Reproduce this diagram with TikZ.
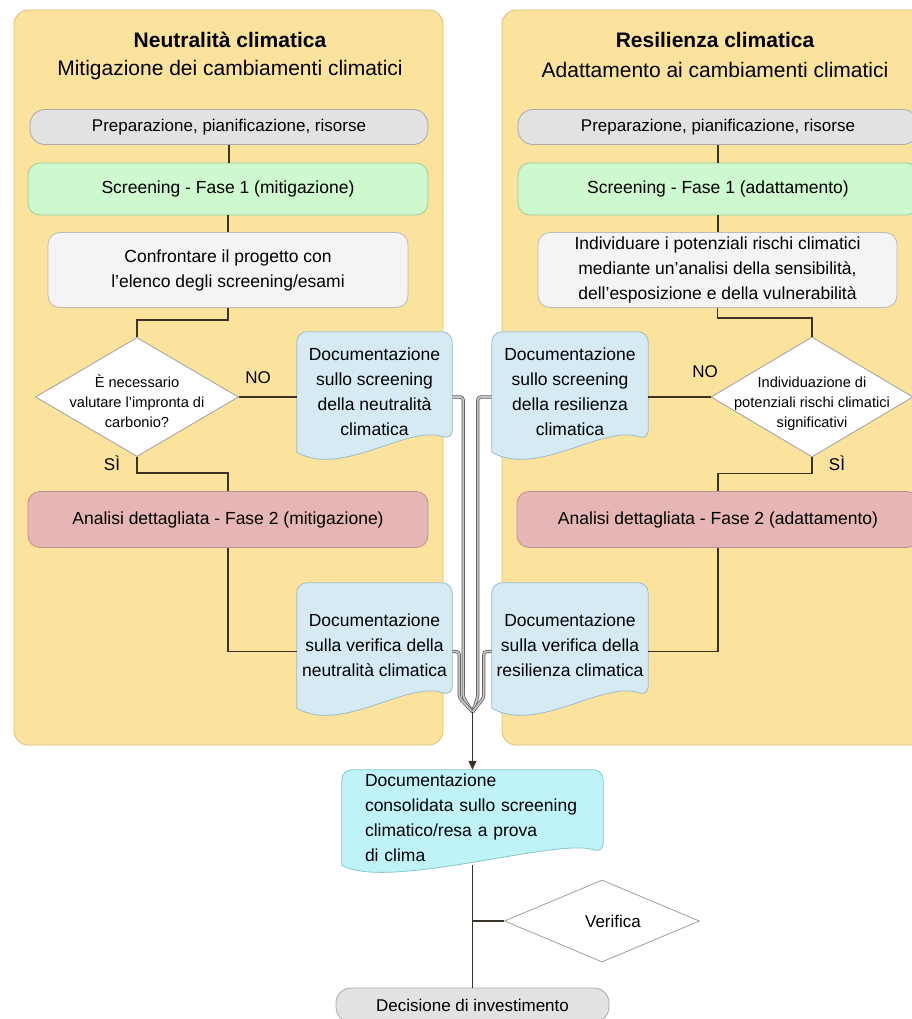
\documentclass[tikz,border=0pt]{standalone}
\usepackage{fontspec}
\setmainfont{Liberation Sans}
\usetikzlibrary{shapes.geometric,backgrounds,arrows.meta}

\definecolor{panelfill}{HTML}{FCE39D}
\definecolor{paneldraw}{HTML}{DDBF7A}
\definecolor{prepfill}{HTML}{E2E2E2}
\definecolor{prepdraw}{HTML}{A9A9A9}
\definecolor{scrfill}{HTML}{CEF8CE}
\definecolor{scrdraw}{HTML}{9CCB9C}
\definecolor{chkfill}{HTML}{F4F4F4}
\definecolor{chkdraw}{HTML}{BBBBBB}
\definecolor{anafill}{HTML}{E6B5B5}
\definecolor{anadraw}{HTML}{BF8E8E}
\definecolor{docfill}{HTML}{D6EAF3}
\definecolor{docdraw}{HTML}{9BBCCB}
\definecolor{consfill}{HTML}{C0F3F7}
\definecolor{consdraw}{HTML}{86C6CE}
\definecolor{linecol}{HTML}{3A3325}

\tikzset{
	panel/.style={fill=panelfill, draw=paneldraw, line width=0.8, rounded corners=14},
	title/.style={font=\bfseries\fontsize{21}{25}\selectfont},
	subtitle/.style={font=\fontsize{21}{25}\selectfont},
	box/.style={rectangle, rounded corners=12, align=center, inner sep=0, line width=0.8, font=\fontsize{17.5}{25}\selectfont},
	prep/.style={box, rounded corners=15, fill=prepfill, draw=prepdraw, minimum height=35, font=\fontsize{17}{25}\selectfont},
	screen/.style={box, fill=scrfill, draw=scrdraw, minimum height=52},
	check/.style={box, fill=chkfill, draw=chkdraw, minimum height=75},
	analysis/.style={box, fill=anafill, draw=anadraw, minimum height=56},
	doc/.style={rectangle, align=center, inner sep=0, minimum width=155, font=\fontsize{17.5}{25}\selectfont},
	cons/.style={rectangle, align=left, text width=215, inner xsep=23, inner ysep=0, minimum height=95, font=\fontsize{17.5}{25}\selectfont},
	decision/.style={diamond, draw=gray!75, fill=white, line width=0.8, minimum width=203, minimum height=119, inner sep=0},
	dectext/.style={align=center, inner sep=0, font=\fontsize{14.6}{20}\selectfont},
	answer/.style={inner sep=0, font=\fontsize{17}{20}\selectfont},
	flow/.style={draw=linecol, line width=1.2},
	pipe/.style={draw=black!65, line width=0.7, double=gray!45, double distance=1.8, rounded corners=3},
	arrow/.style={flow, -{Triangle[length=9,width=8]}}
}

% document shape behind a named node
\newcommand{\docshape}[3]{%
	\begin{scope}[on background layer]
		\filldraw[fill=#2, draw=#3, line width=0.8] (#1.south west) [rounded corners=10] -- (#1.north west) -- (#1.north east) -- ([yshift=12]#1.south east) [sharp corners] .. controls ([xshift=-45,yshift=28]#1.south east) and ([xshift=45,yshift=-26]#1.south west) .. (#1.south west) -- cycle;
	\end{scope}}

\begin{document}
\begin{tikzpicture}[x=1pt, y=-1pt]
	\useasboundingbox (0,0) rectangle (912,1019);
	%panels
		\begin{scope}[on background layer]
			\filldraw[panel] (14,10) rectangle (443,745);
			\filldraw[panel] (502,10) rectangle (940,745);
		\end{scope}
	%left column - mitigation
		\node[title] (titleN) at (230,40) {Neutralità climatica};
		\node[subtitle] (subN) at (230,70) {Mitigazione dei cambiamenti climatici};
		\node[prep, minimum width=398] (prepN) at (229,127) {Preparazione, pianificazione, risorse};
		\node[screen, minimum width=400] (scrN) at (228,189) {Screening - Fase 1 (mitigazione)};
		\node[check, minimum width=360] (chkN) at (228,270) {Confrontare il progetto con\\l'elenco degli screening/esami};
		\node[decision] (diaN) at (137,397) {};
		\node[dectext] (diaNtext) at (137,401) {È necessario\\valutare l'impronta di\\carbonio?};
		\node[answer] (noN) at (258,378) {NO};
		\node[answer] (siN) at (112,463) {SÌ};
		\node[doc, minimum height=120] (docscrN) at (374.5,392) {Documentazione\\sullo screening\\della neutralità\\climatica};
		\node[analysis, minimum width=400] (anaN) at (228,519.5) {Analisi dettagliata - Fase 2 (mitigazione)};
		\node[doc, minimum height=125] (docverN) at (374.5,645.5) {Documentazione\\sulla verifica della\\neutralità climatica};
		\docshape{docscrN}{docfill}{docdraw}
		\docshape{docverN}{docfill}{docdraw}
	%right column - adaptation
		\node[title] (titleR) at (715,40) {Resilienza climatica};
		\node[subtitle] (subR) at (715,70) {Adattamento ai cambiamenti climatici};
		\node[prep, minimum width=400] (prepR) at (718,127) {Preparazione, pianificazione, risorse};
		\node[screen, minimum width=400] (scrR) at (718,189) {Screening - Fase 1 (adattamento)};
		\node[check, minimum width=359] (chkR) at (717.5,270) {Individuare i potenziali rischi climatici\\mediante un'analisi della sensibilità,\\dell'esposizione e della vulnerabilità};
		\node[decision, minimum width=202, minimum height=120] (diaR) at (812,397) {};
		\node[dectext] (diaRtext) at (812,404) {Individuazione di\\potenziali rischi climatici\\significativi};
		\node[answer] (noR) at (705,372) {NO};
		\node[answer] (siR) at (837,463) {SÌ};
		\node[doc, minimum height=120, minimum width=156] (docscrR) at (570,392) {Documentazione\\sullo screening\\della resilienza\\climatica};
		\node[analysis, minimum width=402] (anaR) at (718,519.5) {Analisi dettagliata - Fase 2 (adattamento)};
		\node[doc, minimum height=125, minimum width=156] (docverR) at (570,645.5) {Documentazione\\sulla verifica della\\resilienza climatica};
		\docshape{docscrR}{docfill}{docdraw}
		\docshape{docverR}{docfill}{docdraw}
	%bottom
		\node[cons] (consN) at (472.5,817.5) {Documentazione\\consolidata sullo screening\\climatico/resa a prova\\di clima};
		\docshape{consN}{consfill}{consdraw}
		\node[decision, minimum width=195, minimum height=82] (verN) at (602,921) {};
		\node[answer] (verNtext) at (613,921) {Verifica};
		\node[prep, minimum width=273, minimum height=34] (decN) at (472.5,1005) {Decisione di investimento};
	%left flow
		\draw[flow] (prepN.south) -- (prepN.south |- scrN.north);
		\draw[flow] (scrN.south) -- (scrN.south |- chkN.north);
		\draw[flow] (chkN.south) -- ++(0,12) -| (diaN.north);
		\draw[flow] (diaN.east) -- (diaN.east -| docscrN.west);
		\draw[flow] (diaN.south) -- ++(0,16) -| (anaN.north);
		\draw[flow] (anaN.south) |- ([yshift=-6]docverN.west);
	%right flow
		\draw[flow] (prepR.south) -- (prepR.south |- scrR.north);
		\draw[flow] (scrR.south) -- (scrR.south |- chkR.north);
		\draw[flow] (chkR.south) -- ++(0,10) -| (diaR.north);
		\draw[flow] (diaR.west) -- (diaR.west -| docscrR.east);
		\draw[flow] (diaR.south) -- ++(0,16) -| (anaR.north);
		\draw[flow] (anaR.south) |- ([yshift=-6]docverR.east);
	%pipes to consolidated doc
		\coordinate (merge) at (472.5,712);
		\draw[pipe] (diaN -| docscrN.east) -- ++(11,0) -- ++(0,300) -- (merge);
		\draw[pipe] (diaR -| docscrR.west) -- ++(-14,0) -- ++(0,300) -- (merge);
		\draw[pipe] ([yshift=-6]docverN.east) -- ++(7,0) -- ++(0,46) -- (merge);
		\draw[pipe] ([yshift=-6]docverR.west) -- ++(-8,0) -- ++(0,46) -- (merge);
		\draw[arrow] (merge) -- (consN.north);
	%bottom flow
		\draw[flow] (consN.south) -- (decN.north);
		\draw[flow] (consN.south |- verN.west) -- (verN.west);
\end{tikzpicture}
\end{document}
